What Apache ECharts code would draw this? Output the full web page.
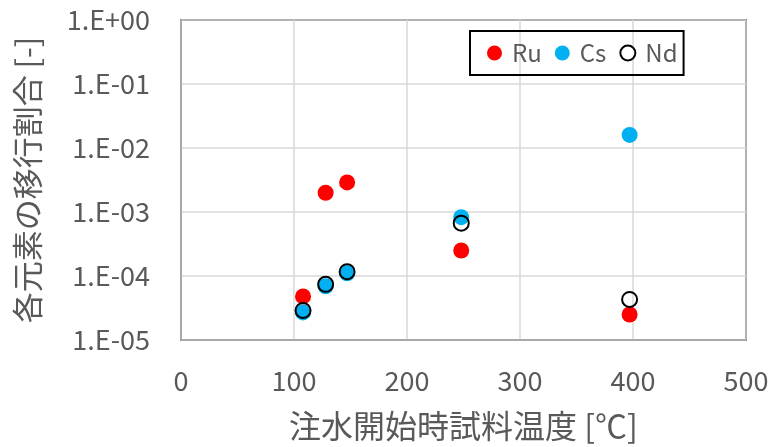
<!DOCTYPE html>
<html>
<head>
<meta charset="utf-8">
<script src="https://cdn.jsdelivr.net/npm/echarts@6/dist/echarts.min.js"></script>
<style>
  html, body { margin: 0; padding: 0; background: #fff; }
  #chart { width: 779px; height: 447px; }
</style>
</head>
<body>
<div id="chart"></div>
<script>
// 注水開始時試料温度 [℃]
const temps = [108, 128, 147, 248, 397];
// 各元素の移行割合 [-]
const ruValues = [4.8e-5, 2.0e-3, 2.9e-3, 2.5e-4, 2.5e-5];
const csValues = [2.7e-5, 6.9e-5, 1.1e-4, 8.3e-4, 1.6e-2];
const ndValues = [2.9e-5, 7.4e-5, 1.17e-4, 6.7e-4, 4.3e-5];
const seriesNames = ['Ru', 'Cs', 'Nd'];

const FONT = '"Noto Sans CJK JP", "Noto Sans", sans-serif';
const toPairs = (vals) => temps.map((t, i) => [t, vals[i]]);

const logLabel = (v) => {
  const e = Math.round(Math.log10(v));
  const s = String(Math.abs(e)).padStart(2, '0');
  return '1.E' + (e >= 0 ? '+' : '-') + s;
};

const myChart = echarts.init(document.getElementById('chart'));
myChart.setOption({
  animation: false,
  textStyle: { fontFamily: FONT },
  grid: {
    left: 181, right: 33, top: 20, bottom: 104,
    show: true,
    borderColor: '#000',
    borderWidth: 1.5,
  },
  legend: {
    left: 470,
    top: 31,
    padding: [10, 6, 10, 17],
    borderColor: '#000',
    borderWidth: 2,
    itemWidth: 15,
    itemHeight: 15,
    itemGap: 13,
    textStyle: { fontSize: 24, color: '#595959', fontFamily: FONT, padding: [0, 0, 0, 5] },
    data: [
      { name: 'Ru', icon: 'circle' },
      { name: 'Cs', icon: 'circle' },
      { name: 'Nd', icon: 'circle', itemStyle: { color: '#fff', borderColor: '#000', borderWidth: 2 } },
    ],
  },
  xAxis: {
    type: 'value',
    min: 0,
    max: 500,
    interval: 100,
    name: '注水開始時試料温度 [℃]',
    nameLocation: 'middle',
    nameGap: 70,
    nameTextStyle: { fontSize: 32, color: '#595959' },
    axisLine: { lineStyle: { color: '#a6a6a6', width: 1.5 } },
    axisTick: { show: false },
    axisLabel: { fontSize: 27, color: '#595959', margin: 27 },
    splitLine: { lineStyle: { color: '#d9d9d9', width: 1.5 } },
  },
  yAxis: {
    type: 'log',
    logBase: 10,
    min: 1e-5,
    max: 1,
    name: '各元素の移行割合 [-]',
    nameLocation: 'middle',
    nameRotate: 90,
    nameGap: 138,
    nameTextStyle: { fontSize: 31, color: '#595959' },
    axisLine: { show: true, lineStyle: { color: '#a6a6a6', width: 1.5 } },
    axisTick: { show: false },
    axisLabel: { fontSize: 27, color: '#595959', margin: 31, formatter: logLabel },
    splitLine: { lineStyle: { color: '#d9d9d9', width: 1.5 } },
  },
  series: [
    {
      name: seriesNames[0],
      type: 'scatter',
      symbolSize: 16,
      itemStyle: { color: '#ff0000', opacity: 1 },
      data: toPairs(ruValues),
    },
    {
      name: seriesNames[1],
      type: 'scatter',
      symbolSize: 16,
      itemStyle: { color: '#00b0f0', opacity: 1 },
      data: toPairs(csValues),
    },
    {
      name: seriesNames[2],
      type: 'scatter',
      symbolSize: 15,
      itemStyle: { color: 'rgba(0,0,0,0)', borderColor: '#000', borderWidth: 2, opacity: 1 },
      data: toPairs(ndValues),
    },
  ],
});
</script>
</body>
</html>
